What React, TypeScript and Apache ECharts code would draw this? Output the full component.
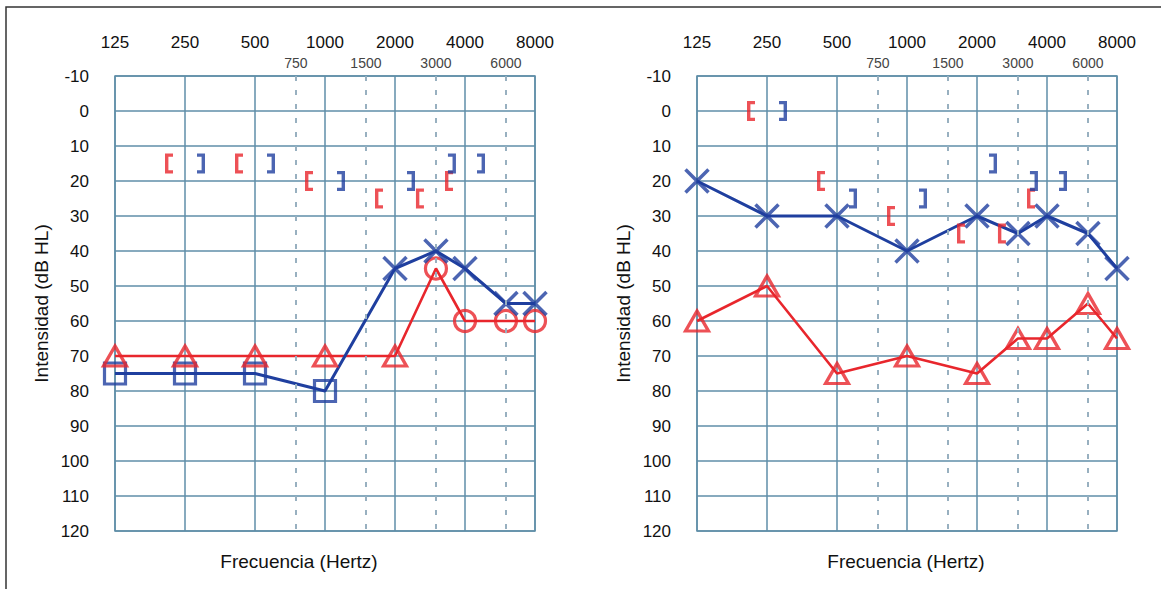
import React, { useEffect, useRef } from "react";
import * as echarts from "echarts";

// ---- axis definitions ----
const OCTAVES = [125, 250, 500, 1000, 2000, 4000, 8000];
const HALF_OCTAVES = [750, 1500, 3000, 6000];
const DB_MIN = -10;
const DB_MAX = 120;
const DB_STEP = 10;

// ---- left audiogram ----
const L_RED_TRI_F = [125, 250, 500, 1000, 2000];
const L_RED_TRI_DB = [70, 70, 70, 70, 70];
const L_RED_CIRC_F = [3000, 4000, 6000, 8000];
const L_RED_CIRC_DB = [45, 60, 60, 60];
const L_BLUE_SQ_F = [125, 250, 500, 1000];
const L_BLUE_SQ_DB = [75, 75, 75, 80];
const L_BLUE_X_F = [2000, 3000, 4000, 6000, 8000];
const L_BLUE_X_DB = [45, 40, 45, 55, 55];
const L_BC_F = [250, 500, 1000, 2000, 3000, 4000];
const L_BC_RED_DB = [15, 15, 20, 25, 25, 20];
const L_BC_BLUE_DB = [15, 15, 20, 20, 15, 15];

// ---- right audiogram ----
const R_F = [125, 250, 500, 1000, 2000, 3000, 4000, 6000, 8000];
const R_BLUE_X_DB = [20, 30, 30, 40, 30, 35, 30, 35, 45];
const R_RED_TRI_DB = [60, 50, 75, 70, 75, 65, 65, 55, 65];
const R_BC_F = [250, 500, 1000, 2000, 3000, 4000];
const R_BC_RED_DB = [0, 20, 30, 35, 35, 25];
const R_BC_BLUE_DB = [0, 25, 25, 15, 20, 20];

const Y_NAME = "Intensidad (dB HL)";
const X_NAME = "Frecuencia (Hertz)";

const RED = "#e8262c";
const BLUE = "#1f3f9f";
const GRID = "#5f8ea8";
const DASH = "#98b0c0";
const FONT = "'Liberation Sans', Arial, Helvetica, sans-serif";

const lx = (f: number) => Math.log2(f / 125);
const pts = (fs: number[], dbs: number[]) => fs.map((f, i) => [lx(f), dbs[i]]);

const X_PATH = "path://M0,0 L10,10 M10,0 L0,10";
const LB_PATH = "path://M0,0 L8,0 L8,3.2 L3.4,3.2 L3.4,16.8 L8,16.8 L8,20 L0,20 Z";
const RB_PATH = "path://M0,0 L8,0 L8,20 L0,20 L0,16.8 L4.6,16.8 L4.6,3.2 L0,3.2 Z";

function buildAxes(gi: number) {
  const main = {
    type: "value",
    gridIndex: gi,
    position: "top",
    min: 0,
    max: 6,
    interval: 1,
    axisLine: { show: false },
    axisTick: { show: false },
    axisLabel: {
      margin: 25,
      fontSize: 17,
      color: "#111",
      fontFamily: FONT,
      formatter: (v: number) => String(OCTAVES[Math.round(v)] ?? ""),
    },
    splitLine: { show: true, lineStyle: { color: GRID, width: 1.5 } },
  };
  const half = {
    type: "value",
    gridIndex: gi,
    position: "top",
    min: 0,
    max: 6,
    axisLine: { show: false },
    axisTick: { show: false },
    splitLine: { show: false },
    axisLabel: {
      customValues: HALF_OCTAVES.map(lx),
      margin: 6,
      fontSize: 14,
      color: "#444",
      fontFamily: FONT,
      formatter: (v: number) => {
        const f = HALF_OCTAVES.find((h) => Math.abs(lx(h) - v) < 1e-6);
        return f ? String(f) : "";
      },
    },
  };
  return [main, half];
}

function buildY(gi: number) {
  return {
    type: "value",
    gridIndex: gi,
    inverse: true,
    min: DB_MIN,
    max: DB_MAX,
    interval: DB_STEP,
    name: Y_NAME,
    nameLocation: "middle",
    nameGap: 64,
    nameTextStyle: { fontSize: 19, color: "#111", fontFamily: FONT },
    axisLine: { show: false },
    axisTick: { show: false },
    axisLabel: { margin: 26, fontSize: 17, color: "#111", fontFamily: FONT },
    splitLine: { show: true, lineStyle: { color: GRID, width: 1.5 } },
  };
}

function dashSeries(xi: number, yi: number) {
  return {
    type: "line",
    xAxisIndex: xi,
    yAxisIndex: yi,
    data: [],
    silent: true,
    z: 1,
    markLine: {
      silent: true,
      symbol: "none",
      label: { show: false },
      lineStyle: { color: DASH, width: 2, type: [5, 9] },
      data: HALF_OCTAVES.map((f) => [
        { coord: [lx(f), DB_MIN] },
        { coord: [lx(f), DB_MAX] },
      ]),
    },
  };
}

function lineSeries(xi: number, yi: number, data: number[][], color: string, width: number) {
  return {
    type: "line",
    xAxisIndex: xi,
    yAxisIndex: yi,
    data,
    symbol: "none",
    lineStyle: { color, width },
    z: 3,
  };
}

function markSeries(
  xi: number,
  yi: number,
  data: number[][],
  symbol: string,
  size: number | number[],
  color: string,
  filled: boolean,
  offset: number[] = [0, 0],
  bw = 3.2
) {
  return {
    type: "scatter",
    xAxisIndex: xi,
    yAxisIndex: yi,
    data,
    symbol,
    symbolSize: size,
    symbolOffset: offset,
    z: 4,
    itemStyle: filled
      ? { color, borderWidth: 0 }
      : { color: "transparent", borderColor: color, borderWidth: bw },
  };
}

export default function App() {
  const ref = useRef<HTMLDivElement>(null);

  useEffect(() => {
    if (!ref.current) return;
    const chart = echarts.init(ref.current, undefined, { renderer: "svg" });

    const [x0, h0] = buildAxes(0);
    const [x1, h1] = buildAxes(1);

    const lRed = [...pts(L_RED_TRI_F, L_RED_TRI_DB), ...pts(L_RED_CIRC_F, L_RED_CIRC_DB)];
    const lBlue = [...pts(L_BLUE_SQ_F, L_BLUE_SQ_DB), ...pts(L_BLUE_X_F, L_BLUE_X_DB)];

    const option: any = {
      animation: false,
      backgroundColor: "#fff",
      textStyle: { fontFamily: FONT },
      grid: [
        { left: 115, top: 76, width: 420, height: 455, show: true, borderColor: GRID, borderWidth: 1.5 },
        { left: 697, top: 76, width: 420, height: 455, show: true, borderColor: GRID, borderWidth: 1.5 },
      ],
      xAxis: [x0, h0, x1, h1],
      yAxis: [buildY(0), buildY(1)],
      series: [
        dashSeries(0, 0),
        dashSeries(2, 1),
        // left chart
        lineSeries(0, 0, lRed, RED, 2.6),
        lineSeries(0, 0, lBlue, BLUE, 3),
        markSeries(0, 0, pts(L_BLUE_SQ_F, L_BLUE_SQ_DB), "rect", 21, BLUE, false),
        markSeries(0, 0, pts(L_RED_TRI_F, L_RED_TRI_DB), "triangle", [23, 20], RED, false),
        markSeries(0, 0, pts(L_RED_CIRC_F, L_RED_CIRC_DB), "circle", 21, RED, false),
        markSeries(0, 0, pts(L_BLUE_X_F, L_BLUE_X_DB), X_PATH, 23, BLUE, false, [0, 0], 3.5),
        markSeries(0, 0, pts(L_BC_F, L_BC_RED_DB), LB_PATH, [8, 20], RED, true, [-16, 0]),
        markSeries(0, 0, pts(L_BC_F, L_BC_BLUE_DB), RB_PATH, [8, 20], BLUE, true, [16, 0]),
        // right chart
        lineSeries(2, 1, pts(R_F, R_RED_TRI_DB), RED, 2.6),
        lineSeries(2, 1, pts(R_F, R_BLUE_X_DB), BLUE, 3),
        markSeries(2, 1, pts(R_F, R_RED_TRI_DB), "triangle", [23, 20], RED, false),
        markSeries(2, 1, pts(R_F, R_BLUE_X_DB), X_PATH, 23, BLUE, false, [0, 0], 3.5),
        markSeries(2, 1, pts(R_BC_F, R_BC_RED_DB), LB_PATH, [8, 20], RED, true, [-16, 0]),
        markSeries(2, 1, pts(R_BC_F, R_BC_BLUE_DB), RB_PATH, [8, 20], BLUE, true, [16, 0]),
      ],
      graphic: [
        {
          type: "polyline",
          shape: { points: [[6, 589], [6, 7], [1161, 7]] },
          style: { stroke: "#333", lineWidth: 1.5, fill: "none" },
          silent: true,
        },
        {
          type: "text",
          x: 299,
          y: 561,
          style: {
            text: X_NAME,
            fontSize: 19,
            fill: "#111",
            fontFamily: FONT,
            align: "center",
            verticalAlign: "middle",
          },
        },
        {
          type: "text",
          x: 906,
          y: 561,
          style: {
            text: X_NAME,
            fontSize: 19,
            fill: "#111",
            fontFamily: FONT,
            align: "center",
            verticalAlign: "middle",
          },
        },
      ],
    };

    chart.setOption(option);
    return () => chart.dispose();
  }, []);

  return (
    <div
      ref={ref}
      style={{ position: "fixed", left: 0, top: 0, width: 1161, height: 589, background: "#fff" }}
    />
  );
}
